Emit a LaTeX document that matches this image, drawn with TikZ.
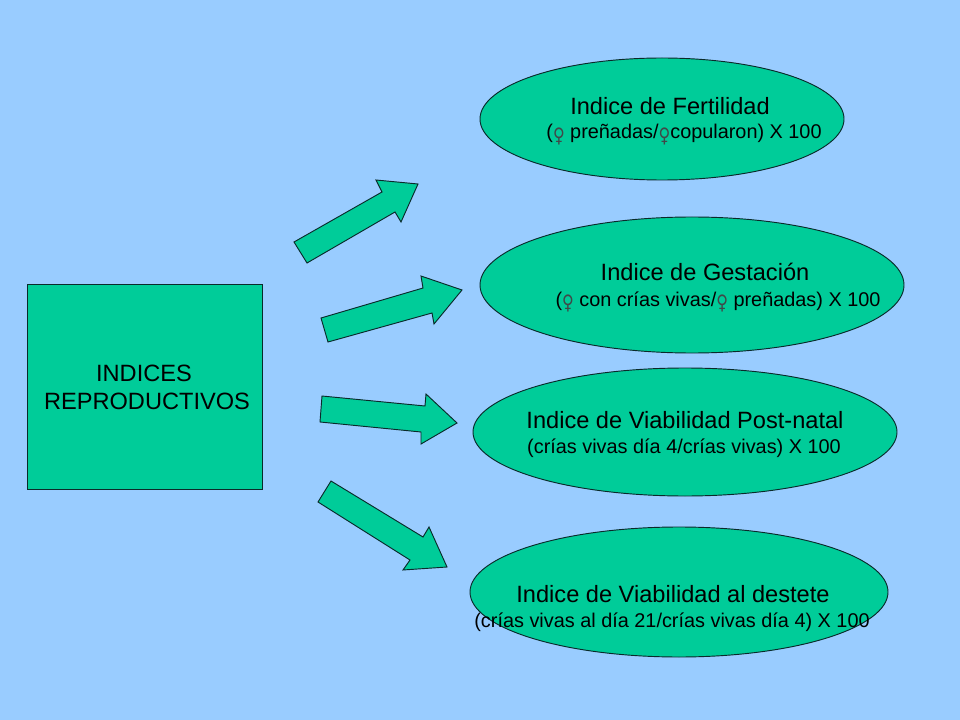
\documentclass[tikz,border=0pt]{standalone}
\usepackage{fontspec}
\setmainfont{Liberation Sans}
\newfontfamily\symfont{DejaVu Sans}
\usetikzlibrary{shapes.geometric}
\definecolor{bgblue}{HTML}{99CCFF}
\definecolor{tealfill}{HTML}{00CC99}
\definecolor{edge}{HTML}{0A2A2A}
\definecolor{symgray}{HTML}{404848}
\newcommand{\fem}{\raisebox{-2.5pt}{\scalebox{0.8}[1]{\symfont\fontsize{15pt}{15pt}\selectfont\color{symgray}♀}}}
\tikzset{
  shapefill/.style={fill=tealfill, draw=edge, line width=0.7pt},
  oval/.style={ellipse, shapefill, inner sep=0pt},
  titletext/.style={anchor=base, inner sep=0pt, font=\fontsize{17.7pt}{21pt}\selectfont},
  formtext/.style={anchor=base, inner sep=0pt, font=\fontsize{14.9pt}{18pt}\selectfont},
  boxtext/.style={anchor=base, inner sep=0pt, font=\fontsize{17.7pt}{21pt}\selectfont},
}
\begin{document}
\begin{tikzpicture}[x=0.75pt, y=-0.75pt]
\fill[bgblue] (0,0) rectangle (960,720);
\useasboundingbox (0,0) rectangle (960,720);

% left box
\node[shapefill, rectangle, minimum width=235*0.75pt, minimum height=205*0.75pt, inner sep=0pt] (box) at (144.5,386.5) {};
\node[boxtext] (b1) at (144,381) {INDICES};
\node[boxtext] (b2) at (147,409) {REPRODUCTIVOS};

% ellipses
\node[oval, minimum width=364*0.75pt, minimum height=122*0.75pt] (e1) at (662,119) {};
\node[oval, minimum width=424*0.75pt, minimum height=136*0.75pt] (e2) at (692,285) {};
\node[oval, minimum width=424*0.75pt, minimum height=128*0.75pt] (e3) at (685,432) {};
\node[oval, minimum width=418*0.75pt, minimum height=130*0.75pt] (e4) at (679,592) {};

\node[titletext] (t1) at (670,115) {Indice de Fertilidad};
\node[formtext] (f1) at (684,139) {(\fem\ preñadas/\fem copularon) X 100};
\node[titletext] (t2) at (705,281) {Indice de Gestación};
\node[formtext] (f2) at (718,306) {(\fem\ con crías vivas/\fem\ preñadas) X 100};
\node[titletext] (t3) at (685,428) {Indice de Viabilidad Post-natal};
\node[formtext] (f3) at (684,453) {(crías vivas día 4/crías vivas) X 100};
\node[titletext] (t4) at (673,602) {Indice de Viabilidad al destete};
\node[formtext] (f4) at (672,627) {(crías vivas al día 21/crías vivas día 4) X 100};

% block arrows
\draw[shapefill, line join=miter] (294,242) -- (382,192) -- (376,180) -- (418,184) -- (401,222) -- (395,212) -- (307,263) -- cycle;
\draw[shapefill, line join=miter] (321,318) -- (423,288) -- (421,276) -- (462,290) -- (434,324) -- (432,313) -- (328,342) -- cycle;
\draw[shapefill, line join=miter] (322,396) -- (425,406) -- (426,394) -- (457,423) -- (421,444) -- (421,432) -- (320,422) -- cycle;
\draw[shapefill, line join=miter] (331,481) -- (423,537) -- (429,527) -- (447,567) -- (403,570) -- (410,560) -- (318,502) -- cycle;
\end{tikzpicture}
\end{document}
